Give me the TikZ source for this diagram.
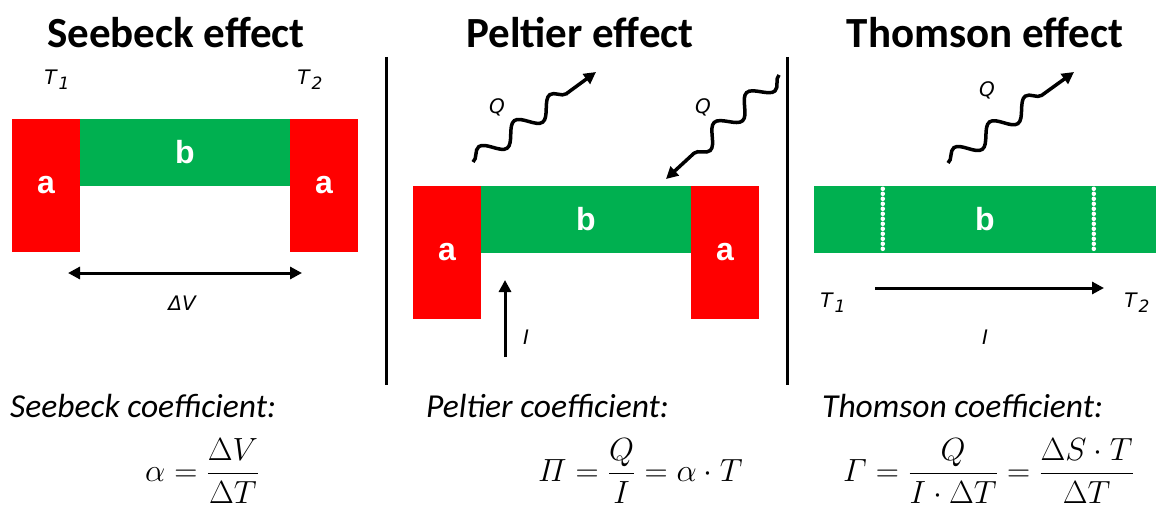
\documentclass[tikz,border=0pt]{standalone}
\usepackage{amsmath}
\usepackage{graphicx}
\usepackage{fontspec}
\setmainfont{Carlito}
\newfontfamily\labelfont{DejaVu Sans}
\newfontfamily\blockfont{Liberation Sans}
\usetikzlibrary{arrows.meta, decorations.pathmorphing}
\definecolor{metalred}{RGB}{255, 0, 0}
\definecolor{metalgreen}{RGB}{0, 176, 80}
\newcommand{\tsub}[1]{\kern2pt\raisebox{-5pt}{\fontsize{17}{18}\selectfont #1}}
\newcommand{\bigmath}[1]{\scalebox{1.29}{$\displaystyle #1$}}

\begin{document}
\begin{tikzpicture}[x=1pt, y=-1pt,
    title/.style={font=\fontsize{43}{46}\selectfont\bfseries},
    coeff/.style={anchor=west, inner sep=0pt, font=\fontsize{33.5}{38}\selectfont\itshape},
    formula/.style={anchor=west, inner sep=0pt, font=\fontsize{24.88}{30}\selectfont},
    tlabel/.style={font=\labelfont\itshape\fontsize{20}{22}\selectfont},
    blocka/.style={fill=metalred, inner sep=0pt, minimum width=68, minimum height=133,
                   text=white, font=\blockfont\bfseries\fontsize{32}{34}\selectfont},
    blockb/.style={fill=metalgreen, inner sep=0pt, minimum height=67,
                   text=white, font=\blockfont\bfseries\fontsize{32}{34}\selectfont},
    arrow/.style={-{Triangle[length=12pt, width=12pt]}, line width=3pt},
    dblarrow/.style={{Triangle[length=12pt, width=12pt]}-{Triangle[length=12pt, width=12pt]}, line width=3pt},
    heat/.style={arrow, line width=3.5pt, decorate,
                 decoration={snake, segment length=44pt, amplitude=9pt, post length=20pt}},
    junction/.style={white, line width=4.5pt, line cap=round, dash pattern=on 0pt off 5pt},
    divider/.style={line width=3pt}
  ]
  \useasboundingbox (0,0) rectangle (1156,511);

  % Seebeck effect
  \node[title] (sbTitle) at (176,33) {Seebeck effect};
  \node[blocka] (sbLeft)  at (46,185.5)  {a};
  \node[blockb, minimum width=210] (sbMid) at (185,152) {b};
  \node[blocka] (sbRight) at (324,185.5) {a};
  \node[tlabel] (sbT1) at (57,80)  {T\tsub{1}};
  \node[tlabel] (sbT2) at (310,80) {T\tsub{2}};
  \coordinate (dvLeft)  at (68,273);
  \coordinate (dvRight) at (302,273);
  \draw[dblarrow] (dvLeft) -- (dvRight);
  \node[tlabel] (sbDV) at (182,303) {ΔV};

  % dividers
  \coordinate (divAtop) at (386,57);  \coordinate (divAbot) at (386,385);
  \coordinate (divBtop) at (787,57);  \coordinate (divBbot) at (787,385);
  \draw[divider] (divAtop) -- (divAbot);
  \draw[divider] (divBtop) -- (divBbot);

  % Peltier effect
  \node[title] (ptTitle) at (580,33) {Peltier effect};
  \node[blocka] (ptLeft)  at (447,252)   {a};
  \node[blockb, minimum width=210] (ptMid) at (586,219.5) {b};
  \node[blocka] (ptRight) at (725,252)   {a};
  \coordinate (qOutStart) at (473,162);
  \coordinate (qOutEnd)   at (596,72);
  \draw[heat] (qOutStart) -- (qOutEnd);
  \node[tlabel] (ptQout) at (497,107) {Q};
  \coordinate (qInStart) at (779,75);
  \coordinate (qInEnd)   at (666,179);
  \draw[heat] (qInStart) -- (qInEnd);
  \node[tlabel] (ptQin) at (703,107) {Q};
  \coordinate (iStart) at (505,357);
  \coordinate (iEnd)   at (505,280);
  \draw[arrow] (iStart) -- (iEnd);
  \node[tlabel] (ptI) at (526,337) {I};

  % Thomson effect
  \node[title] (thTitle) at (985,33) {Thomson effect};
  \node[blockb, minimum width=342] (thBar) at (985,219.5) {b};
  \draw[junction] (thBar.north west) ++(69,3) coordinate (jA) -- ++(0,61);
  \draw[junction] (thBar.north west) ++(280,3) coordinate (jB) -- ++(0,61);
  \coordinate (qThStart) at (948,163);
  \coordinate (qThEnd)   at (1074,72);
  \draw[heat] (qThStart) -- (qThEnd);
  \node[tlabel] (thQ) at (987,90) {Q};
  \node[tlabel] (thT1) at (833,303)  {T\tsub{1}};
  \node[tlabel] (thT2) at (1137,303) {T\tsub{2}};
  \coordinate (thIstart) at (875,288);
  \coordinate (thIend)   at (1104,288);
  \draw[arrow] (thIstart) -- (thIend);
  \node[tlabel] (thI) at (985,337) {I};

  % coefficients
  \node[coeff] (sbCoeff) at (10,406)  {Seebeck coefficient:};
  \node[coeff] (ptCoeff) at (426,406) {Peltier coefficient:};
  \node[coeff] (thCoeff) at (822,406) {Thomson coefficient:};
  \node[formula] (sbFormula) at (145,471)
    {\bigmath{\alpha = \frac{\Delta V}{\Delta T}}};
  \node[formula] (ptFormula) at (538,471)
    {\bigmath{\varPi = \frac{Q}{I} = \alpha\cdot T}};
  \node[formula] (thFormula) at (843,471)
    {\bigmath{\varGamma = \frac{Q}{I\cdot\Delta T} = \frac{\Delta S\cdot T}{\Delta T}}};
\end{tikzpicture}
\end{document}
